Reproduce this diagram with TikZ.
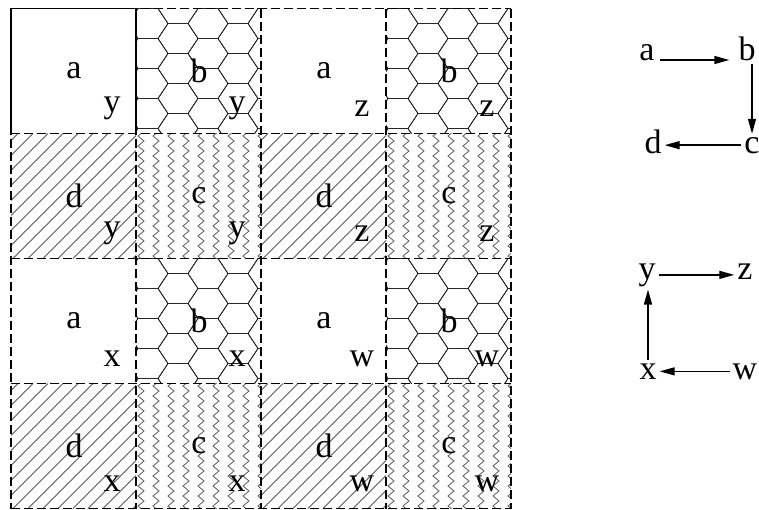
\documentclass[tikz,border=0pt]{standalone}
\usepackage{fontspec}
\setmainfont{Liberation Serif}
\usetikzlibrary{arrows.meta, decorations.pathmorphing}
\definecolor{hexline}{gray}{0.15}
\definecolor{fillline}{gray}{0.35}

% honeycomb, zigzag and hatch fillings of one 125 x 125 cell
\newcommand{\hexcell}[2]{%
  \begin{scope}[shift={(#1,#2)}]
    \clip (0,0) rectangle (125,125);
    \foreach \i in {-1,...,2} \foreach \j in {-1,...,4}
      \draw[hexline, line width=0.8pt] ({42+60*\i},{30+30*\j}) +(-20,0) -- +(-10,-15) -- +(10,-15) -- +(20,0) -- +(10,15) -- +(-10,15) -- cycle;
    \foreach \i in {-2,...,1} \foreach \j in {0,...,4}
      \draw[hexline, line width=0.8pt] ({72+60*\i},{15+30*\j}) +(-20,0) -- +(-10,-15) -- +(10,-15) -- +(20,0) -- +(10,15) -- +(-10,15) -- cycle;
  \end{scope}}
\newcommand{\zigcell}[2]{%
  \begin{scope}[shift={(#1,#2)}]
    \clip (0,0) rectangle (125,125);
    \foreach \k in {0,...,8}
      \draw[fillline, line width=0.8pt, decorate, decoration={zigzag, segment length=10pt, amplitude=3pt}] ({5+15*\k},-5) -- ({5+15*\k},130);
  \end{scope}}
\newcommand{\hatchcell}[2]{%
  \begin{scope}[shift={(#1,#2)}]
    \clip (0,0) rectangle (125,125);
    \foreach \s in {0,...,16}
      \draw[fillline, line width=0.8pt] ({7+15*\s-125},125) -- ({7+15*\s},0);
  \end{scope}}

\begin{document}
\begin{tikzpicture}[x=1pt, y=-1pt,
    every node/.style={font=\fontsize{34}{40}\selectfont, inner sep=3pt},
    grid/.style={line width=1.4pt, dash pattern=on 9pt off 4pt},
    arr/.style={line width=1.4pt, -{Triangle[length=15pt, width=8pt]}}]
  \useasboundingbox (0,0) rectangle (759,509);

  % fillings
  \foreach \col in {1,3} \foreach \row in {0,2}
    \hexcell{11+125*\col}{8.5+125*\row};
  \foreach \col in {1,3} \foreach \row in {1,3}
    \zigcell{11+125*\col}{8.5+125*\row};
  \foreach \col in {0,2} \foreach \row in {1,3}
    \hatchcell{11+125*\col}{8.5+125*\row};

  % cell borders
  \foreach \k in {0,...,4} {
    \draw[grid] ({11+125*\k},8.5) -- ({11+125*\k},508.5);
    \draw[grid] (11,{8.5+125*\k}) -- (511,{8.5+125*\k});
  }
  \draw[line width=1.4pt] (11,133.5) -- (11,8.5) -- (136,8.5) -- (136,133.5);

  % cell labels
  \foreach \col/\row/\m/\k in {0/0/a/y, 1/0/b/y, 0/1/d/y, 1/1/c/y,
      2/0/a/z, 3/0/b/z, 2/1/d/z, 3/1/c/z,
      0/2/a/x, 1/2/b/x, 0/3/d/x, 1/3/c/x,
      2/2/a/w, 3/2/b/w, 2/3/d/w, 3/3/c/w} {
    \node (m\col\row) at ({11+125*\col+63},{8.5+125*\row+62}) {\m};
    \node (k\col\row) at ({11+125*\col+101},{8.5+125*\row+100}) {\k};
  }

  % orders of the quarters
  \node[anchor=base] (a) at (647,60) {a};
  \node[anchor=base] (b) at (747,60) {b};
  \node[anchor=base] (c) at (752,153) {c};
  \node[anchor=base] (d) at (653,153) {d};
  \node[anchor=base] (y) at (647,279) {y};
  \node[anchor=base] (z) at (745,279) {z};
  \node[anchor=base] (x) at (648,379) {x};
  \node[anchor=base] (w) at (745,379) {w};

  \draw[arr, shorten <=2pt, shorten >=6pt] (a.base east) -- (b.base west);
  \draw[arr] (c.north |- b.south) -- (c.north);
  \draw[arr] (c.west) -- (d.east |- c.west);
  \draw[arr] (y.east) -- (z.west |- y.east);
  \draw[arr] (w.west) -- (x.east |- w.west);
  \draw[arr] (x.north) -- (y.south -| x.north);
\end{tikzpicture}
\end{document}
